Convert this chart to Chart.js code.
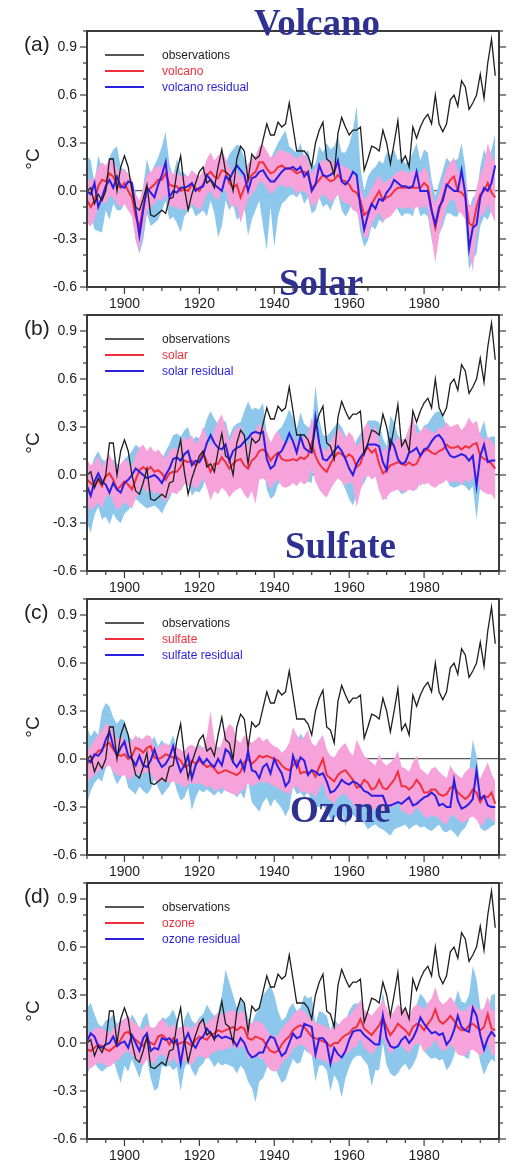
<!DOCTYPE html>
<html>
<head>
<meta charset="utf-8">
<script src="https://cdn.jsdelivr.net/npm/chart.js@4.4.1/dist/chart.umd.min.js"></script>
<style>
  html, body { margin: 0; padding: 0; background: #fff; }
  #wrap { position: relative; width: 512px; height: 1163px; overflow: hidden; }
  #wrap canvas { position: absolute; left: 0; }
  .ttl {
    position: absolute; z-index: 5; white-space: nowrap;
    font-family: "Liberation Serif", "Times New Roman", serif;
    font-weight: bold; font-size: 37px; line-height: 37px; color: #2e3192;
  }
</style>
</head>
<body>
<div id="wrap">
  <canvas id="pa" width="512" height="316" style="top:0px"></canvas>
  <canvas id="pb" width="512" height="316" style="top:284px"></canvas>
  <canvas id="pc" width="512" height="316" style="top:568px"></canvas>
  <canvas id="pd" width="512" height="311" style="top:852px"></canvas>
  <div class="ttl" style="left:254px;top:4px">Volcano</div>
  <div class="ttl" style="left:279px;top:264px">Solar</div>
  <div class="ttl" style="left:285px;top:527px">Sulfate</div>
  <div class="ttl" style="left:290px;top:791px">Ozone</div>
</div>
<script>
/* ---- data (annual, 1890-1999) ---- */
const years = [
  1890,1891,1892,1893,1894,1895,1896,1897,1898,1899,
  1900,1901,1902,1903,1904,1905,1906,1907,1908,1909,
  1910,1911,1912,1913,1914,1915,1916,1917,1918,1919,
  1920,1921,1922,1923,1924,1925,1926,1927,1928,1929,
  1930,1931,1932,1933,1934,1935,1936,1937,1938,1939,
  1940,1941,1942,1943,1944,1945,1946,1947,1948,1949,
  1950,1951,1952,1953,1954,1955,1956,1957,1958,1959,
  1960,1961,1962,1963,1964,1965,1966,1967,1968,1969,
  1970,1971,1972,1973,1974,1975,1976,1977,1978,1979,
  1980,1981,1982,1983,1984,1985,1986,1987,1988,1989,
  1990,1991,1992,1993,1994,1995,1996,1997,1998,1999
];

const observations = [
  0.00, 0.02,-0.08,-0.02,-0.06, 0.00, 0.20, 0.20, 0.00, 0.15,
  0.22, 0.15, 0.00,-0.10,-0.12,-0.05, 0.04,-0.15,-0.16,-0.14,
 -0.12,-0.14,-0.05,-0.04, 0.12, 0.22, 0.02,-0.12,-0.02, 0.05,
  0.12, 0.15, 0.05, 0.07, 0.02, 0.15, 0.26, 0.12, 0.10, 0.00,
  0.20, 0.28, 0.25, 0.07, 0.23, 0.20, 0.22, 0.32, 0.42, 0.35,
  0.35, 0.43, 0.40, 0.42, 0.55, 0.40, 0.25, 0.25, 0.25, 0.22,
  0.15, 0.30, 0.38, 0.43, 0.20, 0.18, 0.10, 0.36, 0.46, 0.40,
  0.35, 0.38, 0.38, 0.40, 0.13, 0.20, 0.28, 0.27, 0.25, 0.38,
  0.30, 0.17, 0.30, 0.44, 0.18, 0.22, 0.15, 0.40, 0.33, 0.40,
  0.45, 0.48, 0.42, 0.60, 0.42, 0.37, 0.42, 0.57, 0.60, 0.53,
  0.69, 0.65, 0.51, 0.55, 0.60, 0.73, 0.58, 0.80, 0.95, 0.72
];

// (a) volcano
const volcano = [
 -0.06,-0.10,-0.06, 0.03, 0.07, 0.06, 0.11, 0.09, 0.04, 0.02,
  0.05, 0.00,-0.04,-0.16,-0.23,-0.10, 0.00, 0.02, 0.04, 0.07,
  0.07, 0.11, 0.04, 0.03, 0.03, 0.00, 0.01, 0.00, 0.04, 0.02,
  0.00, 0.04, 0.10, 0.12, 0.09, 0.08, 0.13, 0.12, 0.05, 0.02,
  0.04,-0.04, 0.02, 0.07, 0.10, 0.12, 0.18, 0.18, 0.14, 0.11,
  0.12, 0.15, 0.16, 0.14, 0.14, 0.13, 0.11, 0.12, 0.12, 0.10,
  0.02, 0.04, 0.07, 0.10, 0.08, 0.06, 0.07, 0.10, 0.07, 0.06,
  0.04, 0.00,-0.01,-0.06,-0.15,-0.13,-0.08,-0.04, 0.00,-0.06,
 -0.04,-0.03, 0.00, 0.02, 0.02, 0.02, 0.02, 0.02, 0.02, 0.02,
  0.05, 0.03,-0.12,-0.23,-0.12,-0.04, 0.03, 0.07, 0.09, 0.00,
 -0.01,-0.04,-0.20,-0.22,-0.10,-0.02, 0.00, 0.05,-0.01,-0.04
];
const volcanoHi = [
  0.10, 0.06, 0.08, 0.15, 0.18, 0.16, 0.20, 0.19, 0.14, 0.12,
  0.14, 0.10, 0.07,-0.02,-0.06, 0.02, 0.10, 0.12, 0.14, 0.16,
  0.15, 0.20, 0.12, 0.11, 0.12, 0.09, 0.10, 0.09, 0.13, 0.11,
  0.09, 0.13, 0.20, 0.24, 0.19, 0.22, 0.24, 0.21, 0.15, 0.12,
  0.13, 0.08, 0.12, 0.17, 0.20, 0.22, 0.28, 0.29, 0.25, 0.21,
  0.22, 0.25, 0.26, 0.24, 0.24, 0.22, 0.20, 0.22, 0.23, 0.19,
  0.11, 0.14, 0.17, 0.20, 0.18, 0.21, 0.17, 0.20, 0.16, 0.15,
  0.14, 0.10, 0.09, 0.03,-0.05,-0.03, 0.02, 0.06, 0.10, 0.05,
  0.06, 0.08, 0.10, 0.12, 0.13, 0.12, 0.11, 0.13, 0.12, 0.11,
  0.15, 0.12, 0.00,-0.08,-0.02, 0.06, 0.14, 0.18, 0.21, 0.12,
  0.10, 0.06,-0.08,-0.10, 0.02, 0.10, 0.16, 0.30, 0.22, 0.18
];
const volcanoLo = [
 -0.20,-0.22,-0.18,-0.10,-0.07,-0.08,-0.03,-0.04,-0.08,-0.10,
 -0.08,-0.12,-0.16,-0.30,-0.38,-0.24,-0.12,-0.10,-0.08,-0.05,
 -0.06,-0.02,-0.09,-0.10,-0.10,-0.12,-0.11,-0.12,-0.08,-0.10,
 -0.12,-0.08,-0.02, 0.00,-0.04,-0.06, 0.01, 0.00,-0.08,-0.10,
 -0.09,-0.20,-0.12,-0.05,-0.02, 0.01, 0.06, 0.05, 0.02,-0.02,
  0.00, 0.03, 0.04, 0.02, 0.03, 0.02,-0.02, 0.00, 0.00,-0.03,
 -0.10,-0.08,-0.05,-0.02,-0.04,-0.07,-0.05,-0.02,-0.06,-0.08,
 -0.08,-0.12,-0.13,-0.20,-0.30,-0.28,-0.20,-0.17,-0.13,-0.19,
 -0.17,-0.16,-0.13,-0.10,-0.11,-0.11,-0.10,-0.12,-0.10,-0.11,
 -0.09,-0.11,-0.28,-0.45,-0.28,-0.18,-0.10,-0.06,-0.05,-0.13,
 -0.14,-0.18,-0.36,-0.50,-0.26,-0.16,-0.14,-0.08,-0.14,-0.20
];
const volcanoResid = [
  0.00,-0.02, 0.05,-0.10,-0.04, 0.03, 0.07, 0.02, 0.09, 0.03,
  0.02, 0.06, 0.05,-0.12,-0.28,-0.12, 0.02,-0.01,-0.04, 0.04,
  0.10, 0.18,-0.04, 0.00,-0.01, 0.02, 0.02, 0.03, 0.05, 0.00,
  0.02, 0.03, 0.10, 0.07, 0.04, 0.02, 0.00, 0.09, 0.07, 0.12,
  0.16, 0.13, 0.10, 0.00, 0.08, 0.09, 0.12, 0.13, 0.09, 0.06,
  0.06, 0.09, 0.12, 0.14, 0.14, 0.15, 0.13, 0.15, 0.09, 0.12,
  0.00, 0.04, 0.16, 0.10, 0.09, 0.10, 0.12, 0.19, 0.06, 0.04,
  0.07, 0.12, 0.10,-0.10,-0.24,-0.15,-0.08,-0.11,-0.05,-0.06,
 -0.01, 0.02, 0.07, 0.05, 0.03, 0.03, 0.02, 0.03, 0.12, 0.00,
  0.00, 0.00,-0.12,-0.21,-0.10,-0.06, 0.04, 0.02, 0.00, 0.00,
  0.13,-0.02,-0.36,-0.23,-0.21,-0.04, 0.02, 0.00, 0.05, 0.16
];
const volcanoResidHi = [
  0.22, 0.19, 0.05, 0.22, 0.15, 0.12, 0.21, 0.26, 0.28, 0.15,
  0.13, 0.11, 0.07,-0.01,-0.12, 0.03, 0.20, 0.11, 0.16, 0.21,
  0.28, 0.37, 0.17, 0.09, 0.20, 0.12, 0.11, 0.09, 0.13, 0.07,
  0.05, 0.13, 0.17, 0.15, 0.12, 0.09, 0.05, 0.17, 0.23, 0.26,
  0.29, 0.28, 0.20, 0.13, 0.21, 0.22, 0.19, 0.23, 0.18, 0.20,
  0.25, 0.30, 0.34, 0.38, 0.28, 0.26, 0.24, 0.30, 0.21, 0.26,
  0.15, 0.17, 0.28, 0.24, 0.30, 0.26, 0.28, 0.34, 0.24, 0.24,
  0.29, 0.38, 0.53, 0.15, 0.00, 0.09, 0.13, 0.15, 0.19, 0.17,
  0.24, 0.22, 0.26, 0.19, 0.21, 0.17, 0.19, 0.24, 0.30, 0.19,
  0.26, 0.24, 0.07,-0.03, 0.05, 0.13, 0.21, 0.18, 0.19, 0.20,
  0.30, 0.15,-0.12,-0.04,-0.02, 0.15, 0.26, 0.20, 0.26, 0.36
];
const volcanoResidLo = [
 -0.24,-0.14,-0.24,-0.25,-0.26,-0.12,-0.18,-0.08,-0.12,-0.12,
 -0.08,-0.12,-0.14,-0.31,-0.39,-0.31,-0.14,-0.22,-0.20,-0.18,
 -0.12,-0.06,-0.18,-0.16,-0.20,-0.26,-0.16,-0.12,-0.10,-0.16,
 -0.14,-0.12,-0.16,-0.06,-0.14,-0.29,-0.22,-0.06,-0.12,-0.08,
 -0.18,-0.16,-0.10,-0.28,-0.18,-0.12,-0.06,-0.22,-0.37,-0.10,
 -0.35,-0.16,-0.08,-0.06,-0.03,-0.02,-0.04,-0.01,-0.08,-0.04,
 -0.14,-0.12,-0.04,-0.10,-0.08,-0.12,-0.06,-0.02,-0.12,-0.16,
 -0.12,-0.06,-0.10,-0.26,-0.35,-0.31,-0.22,-0.24,-0.18,-0.20,
 -0.16,-0.12,-0.08,-0.12,-0.16,-0.14,-0.14,-0.16,-0.06,-0.16,
 -0.14,-0.16,-0.30,-0.41,-0.27,-0.22,-0.14,-0.14,-0.16,-0.16,
 -0.06,-0.18,-0.49,-0.43,-0.39,-0.22,-0.16,-0.18,-0.12,-0.06
];

// (b) solar
const solar = [
 -0.03,-0.05,-0.07,-0.03,-0.07,-0.01, 0.01,-0.03,-0.09,-0.07,
 -0.04,-0.06,-0.09,-0.03, 0.03, 0.05, 0.03, 0.05, 0.02, 0.03,
  0.01,-0.03, 0.01, 0.02, 0.02, 0.05, 0.09, 0.08, 0.09, 0.06,
  0.09, 0.14, 0.08, 0.02, 0.07, 0.07, 0.11, 0.08, 0.04, 0.07,
  0.09, 0.10, 0.06, 0.04, 0.09, 0.11, 0.15, 0.16, 0.14, 0.09,
  0.12, 0.14, 0.10, 0.09, 0.09, 0.10, 0.09, 0.11, 0.10, 0.12,
  0.20, 0.12, 0.07, 0.04, 0.02, 0.07, 0.11, 0.14, 0.13, 0.11,
  0.13, 0.11, 0.05, 0.07, 0.15, 0.17, 0.14, 0.16, 0.07, 0.01,
  0.03, 0.06, 0.07, 0.08, 0.07, 0.06, 0.08, 0.06, 0.07, 0.12,
  0.15, 0.16, 0.14, 0.13, 0.15, 0.16, 0.19, 0.17, 0.17, 0.18,
  0.16, 0.18, 0.17, 0.19, 0.20, 0.12, 0.10, 0.09, 0.07, 0.04
];
const solarHi = [
  0.10, 0.06, 0.08, 0.12, 0.05, 0.10, 0.13, 0.08, 0.04, 0.07,
  0.10, 0.08, 0.05, 0.12, 0.17, 0.19, 0.15, 0.18, 0.14, 0.16,
  0.13, 0.10, 0.15, 0.17, 0.16, 0.20, 0.24, 0.22, 0.25, 0.19,
  0.23, 0.30, 0.24, 0.18, 0.28, 0.34, 0.38, 0.30, 0.20, 0.27,
  0.29, 0.31, 0.22, 0.18, 0.26, 0.28, 0.32, 0.30, 0.27, 0.20,
  0.25, 0.28, 0.22, 0.20, 0.21, 0.24, 0.20, 0.25, 0.22, 0.26,
  0.36, 0.26, 0.19, 0.17, 0.15, 0.21, 0.25, 0.29, 0.27, 0.23,
  0.27, 0.24, 0.18, 0.21, 0.30, 0.33, 0.27, 0.31, 0.20, 0.15,
  0.17, 0.22, 0.20, 0.24, 0.21, 0.23, 0.30, 0.38, 0.26, 0.27,
  0.30, 0.29, 0.27, 0.26, 0.30, 0.29, 0.33, 0.30, 0.31, 0.32,
  0.28, 0.31, 0.36, 0.32, 0.34, 0.25, 0.22, 0.24, 0.21, 0.18
];
const solarLo = [
 -0.18,-0.22,-0.20,-0.17,-0.21,-0.14,-0.12,-0.17,-0.22,-0.20,
 -0.17,-0.19,-0.21,-0.15,-0.10,-0.08,-0.11,-0.09,-0.12,-0.11,
 -0.14,-0.17,-0.12,-0.11,-0.12,-0.09,-0.05,-0.07,-0.06,-0.09,
 -0.06,-0.02,-0.08,-0.16,-0.10,-0.12,-0.08,-0.10,-0.14,-0.11,
 -0.09,-0.08,-0.12,-0.15,-0.10,-0.18,-0.03,-0.02,-0.04,-0.09,
 -0.05,-0.03,-0.07,-0.08,-0.07,-0.05,-0.07,-0.04,-0.06,-0.04,
  0.04,-0.04,-0.09,-0.12,-0.14,-0.09,-0.05,-0.02,-0.04,-0.07,
 -0.04,-0.06,-0.20,-0.10,-0.02, 0.00,-0.03,-0.01,-0.10,-0.16,
 -0.14,-0.11,-0.10,-0.09,-0.10,-0.11,-0.09,-0.10,-0.09,-0.05,
 -0.06,-0.05,-0.07,-0.08,-0.06,-0.05,-0.03,-0.05,-0.04,-0.04,
 -0.06,-0.03,-0.05,-0.02,-0.02,-0.09,-0.11,-0.12,-0.12,-0.16
];
const solarResid = [
 -0.07,-0.13,-0.04, 0.01,-0.04,-0.06,-0.11,-0.05,-0.09,-0.11,
 -0.05,-0.03, 0.00, 0.04, 0.02, 0.00,-0.02,-0.01, 0.00,-0.02,
 -0.05, 0.00, 0.04, 0.10, 0.11, 0.09, 0.13, 0.15, 0.06, 0.09,
  0.08, 0.12, 0.20, 0.25, 0.20, 0.17, 0.16, 0.19, 0.09, 0.15,
  0.17, 0.18, 0.21, 0.23, 0.26, 0.27, 0.26, 0.27, 0.10, 0.04,
  0.06, 0.13, 0.15, 0.20, 0.26, 0.21, 0.14, 0.24, 0.17, 0.15,
  0.14, 0.36, 0.20, 0.10, 0.09, 0.12, 0.15, 0.18, 0.15, 0.10,
  0.04, 0.00, 0.07, 0.11, 0.14, 0.19, 0.19, 0.19, 0.18, 0.08,
  0.03, 0.22, 0.18, 0.10, 0.07, 0.08, 0.14, 0.15, 0.17, 0.12,
  0.16, 0.17, 0.21, 0.24, 0.25, 0.22, 0.16, 0.12, 0.11, 0.12,
  0.13, 0.12, 0.09, 0.12,-0.07, 0.12, 0.19, 0.08, 0.09, 0.09
];
const solarResidHi = [
  0.10, 0.04, 0.11, 0.15, 0.10, 0.08, 0.05, 0.10, 0.07, 0.05,
  0.10, 0.12, 0.15, 0.19, 0.17, 0.15, 0.13, 0.14, 0.15, 0.13,
  0.10, 0.15, 0.19, 0.25, 0.26, 0.24, 0.28, 0.30, 0.21, 0.24,
  0.23, 0.27, 0.35, 0.40, 0.35, 0.32, 0.31, 0.34, 0.24, 0.30,
  0.32, 0.33, 0.40, 0.46, 0.41, 0.42, 0.41, 0.45, 0.25, 0.19,
  0.21, 0.28, 0.30, 0.35, 0.41, 0.36, 0.29, 0.39, 0.32, 0.30,
  0.29, 0.56, 0.35, 0.25, 0.24, 0.27, 0.30, 0.33, 0.30, 0.25,
  0.19, 0.15, 0.22, 0.26, 0.29, 0.34, 0.34, 0.34, 0.33, 0.23,
  0.18, 0.37, 0.33, 0.25, 0.22, 0.23, 0.29, 0.30, 0.32, 0.27,
  0.31, 0.32, 0.36, 0.39, 0.40, 0.37, 0.31, 0.27, 0.26, 0.27,
  0.28, 0.27, 0.24, 0.27, 0.08, 0.27, 0.34, 0.23, 0.24, 0.24
];
const solarResidLo = [
 -0.30,-0.36,-0.25,-0.20,-0.28,-0.26,-0.31,-0.24,-0.28,-0.30,
 -0.24,-0.22,-0.19,-0.15,-0.17,-0.19,-0.21,-0.20,-0.19,-0.21,
 -0.24,-0.19,-0.15,-0.09,-0.08,-0.10,-0.06,-0.04,-0.13,-0.10,
 -0.11,-0.07, 0.01, 0.06, 0.01,-0.02,-0.03, 0.00,-0.10,-0.04,
 -0.02,-0.01, 0.02, 0.04, 0.07, 0.08, 0.07, 0.08,-0.09,-0.15,
 -0.13,-0.06,-0.04, 0.01, 0.07, 0.02,-0.05, 0.05,-0.02,-0.04,
 -0.05, 0.16, 0.01,-0.09,-0.10,-0.07,-0.04,-0.01,-0.04,-0.09,
 -0.15,-0.19,-0.12,-0.08,-0.05, 0.00, 0.00, 0.00,-0.01,-0.11,
 -0.16, 0.03,-0.01,-0.09,-0.12,-0.11,-0.05,-0.04,-0.02,-0.07,
 -0.03,-0.02, 0.02, 0.05, 0.06, 0.03,-0.03,-0.07,-0.08,-0.07,
 -0.06,-0.07,-0.10,-0.07,-0.28,-0.07, 0.00,-0.11,-0.10,-0.14
];

// (c) sulfate
const sulfate = [
 -0.03,-0.01, 0.02, 0.05, 0.06, 0.09, 0.10, 0.06, 0.03, 0.02,
  0.03, 0.00, 0.02, 0.07, 0.06, 0.04, 0.07, 0.08, 0.01, 0.00,
  0.01, 0.03, 0.02, 0.01, 0.01,-0.01,-0.05,-0.04,-0.01,-0.03,
 -0.01,-0.03,-0.05,-0.04,-0.06,-0.09,-0.08,-0.07,-0.08,-0.09,
 -0.10,-0.08,-0.02, 0.00,-0.03,-0.01, 0.02, 0.01, 0.02, 0.01,
  0.00,-0.01,-0.04,-0.06,-0.07,-0.04,-0.01,-0.09,-0.08,-0.09,
 -0.07,-0.11,-0.05, 0.00,-0.10,-0.12,-0.14,-0.10,-0.08,-0.07,
 -0.10,-0.13,-0.18,-0.17,-0.13,-0.15,-0.19,-0.18,-0.13,-0.18,
 -0.19,-0.16,-0.13,-0.08,-0.17,-0.17,-0.19,-0.17,-0.13,-0.16,
 -0.21,-0.21,-0.19,-0.19,-0.22,-0.23,-0.22,-0.18,-0.17,-0.21,
 -0.23,-0.25,-0.23,-0.19,-0.21,-0.27,-0.23,-0.24,-0.21,-0.28
];
const sulfateHi = [
  0.05, 0.08, 0.12, 0.15, 0.18, 0.22, 0.21, 0.17, 0.12, 0.14,
  0.12, 0.10, 0.11, 0.15, 0.12, 0.13, 0.15, 0.14, 0.08, 0.07,
  0.09, 0.10, 0.08, 0.09, 0.07, 0.06, 0.04, 0.08, 0.09, 0.07,
  0.08, 0.06, 0.15, 0.30, 0.12, 0.05, 0.10, 0.18, 0.22, 0.20,
  0.12, 0.10, 0.15, 0.12, 0.10, 0.12, 0.14, 0.11, 0.13, 0.10,
  0.08, 0.07, 0.04, 0.06, 0.10, 0.20, 0.15, 0.12, 0.14, 0.18,
  0.10, 0.08, 0.12, 0.15, 0.06, 0.02, 0.01, 0.05, 0.08, 0.10,
  0.05, 0.02, 0.12, 0.07, 0.02, 0.00,-0.02,-0.04, 0.03,-0.02,
 -0.04,-0.02, 0.00, 0.05,-0.05,-0.06,-0.08,-0.02, 0.02,-0.06,
 -0.08,-0.10,-0.06,-0.05,-0.08,-0.10,-0.12,-0.04,-0.08,-0.10,
 -0.12,-0.08,-0.06,-0.05,-0.10,-0.12,-0.07,-0.02,-0.09,-0.14
];
const sulfateLo = [
 -0.15,-0.12,-0.10,-0.08,-0.06,-0.05,-0.04,-0.08,-0.10,-0.11,
 -0.10,-0.13,-0.12,-0.08,-0.10,-0.09,-0.08,-0.09,-0.13,-0.15,
 -0.14,-0.13,-0.15,-0.14,-0.15,-0.16,-0.18,-0.16,-0.15,-0.16,
 -0.15,-0.16,-0.18,-0.17,-0.20,-0.19,-0.18,-0.20,-0.21,-0.22,
 -0.23,-0.20,-0.19,-0.15,-0.17,-0.16,-0.14,-0.15,-0.14,-0.16,
 -0.17,-0.18,-0.20,-0.21,-0.22,-0.18,-0.17,-0.21,-0.20,-0.22,
 -0.21,-0.24,-0.19,-0.15,-0.24,-0.26,-0.28,-0.24,-0.22,-0.22,
 -0.25,-0.28,-0.32,-0.30,-0.28,-0.30,-0.32,-0.31,-0.28,-0.32,
 -0.33,-0.30,-0.30,-0.26,-0.33,-0.33,-0.35,-0.34,-0.30,-0.33,
 -0.36,-0.37,-0.35,-0.36,-0.37,-0.40,-0.41,-0.36,-0.35,-0.38,
 -0.40,-0.39,-0.37,-0.36,-0.38,-0.42,-0.40,-0.36,-0.38,-0.40
];
const sulfateResid = [
  0.00,-0.02, 0.03, 0.02, 0.05, 0.12, 0.17, 0.08, 0.02, 0.07,
  0.11, 0.02, 0.00,-0.04, 0.02,-0.04,-0.05,-0.01, 0.06,-0.01,
 -0.05,-0.03, 0.01, 0.08,-0.01,-0.08,-0.04, 0.02,-0.12,-0.04,
  0.01,-0.03, 0.00,-0.03,-0.05, 0.00,-0.04, 0.06, 0.04,-0.02,
 -0.05,-0.01,-0.07, 0.05,-0.07,-0.08,-0.12,-0.05,-0.03,-0.09,
  0.00,-0.05,-0.09,-0.17,-0.14, 0.02,-0.05, 0.01,-0.01,-0.10,
 -0.07,-0.08,-0.10,-0.09,-0.14,-0.21,-0.20,-0.17,-0.13,-0.15,
 -0.16,-0.14,-0.15,-0.17,-0.20,-0.21,-0.23,-0.23,-0.23,-0.23,
 -0.29,-0.29,-0.28,-0.27,-0.28,-0.26,-0.24,-0.29,-0.28,-0.26,
 -0.24,-0.23,-0.21,-0.23,-0.29,-0.28,-0.30,-0.30,-0.13,-0.26,
 -0.31,-0.30,-0.28,-0.25,-0.07,-0.25,-0.23,-0.29,-0.30,-0.30
];
const sulfateResidHi = [
  0.20, 0.14, 0.18, 0.15, 0.30, 0.35, 0.33, 0.26, 0.22, 0.25,
  0.24, 0.15, 0.12, 0.10, 0.14, 0.10, 0.09, 0.11, 0.14, 0.08,
  0.12, 0.08, 0.09, 0.15, 0.06, 0.02, 0.05, 0.08,-0.02, 0.06,
  0.09, 0.07, 0.08, 0.06, 0.04, 0.08, 0.06, 0.10, 0.13, 0.09,
  0.07, 0.10, 0.05, 0.12, 0.02, 0.04,-0.01, 0.05, 0.06, 0.02,
  0.07, 0.04, 0.00,-0.04, 0.02, 0.15, 0.10, 0.16, 0.12, 0.14,
  0.08, 0.02, 0.04, 0.05, 0.00,-0.04,-0.03,-0.02, 0.01,-0.02,
 -0.01,-0.03, 0.00,-0.02,-0.05,-0.08,-0.06,-0.09,-0.10,-0.12,
 -0.14,-0.16,-0.12,-0.10,-0.11,-0.10,-0.13,-0.12,-0.09,-0.10,
 -0.12,-0.14,-0.13,-0.11,-0.09,-0.13,-0.14,-0.12,-0.15,-0.18,
 -0.17,-0.14,-0.09, 0.12, 0.02,-0.16,-0.18,-0.14,-0.19,-0.19
];
const sulfateResidLo = [
 -0.28,-0.20,-0.15,-0.12,-0.14,-0.06,-0.02,-0.10,-0.16,-0.12,
 -0.08,-0.18,-0.20,-0.22,-0.17,-0.20,-0.22,-0.19,-0.12,-0.18,
 -0.23,-0.20,-0.17,-0.11,-0.20,-0.26,-0.24,-0.18,-0.32,-0.24,
 -0.19,-0.21,-0.19,-0.21,-0.23,-0.20,-0.22,-0.18,-0.15,-0.21,
 -0.24,-0.21,-0.25,-0.14,-0.27,-0.30,-0.33,-0.27,-0.24,-0.30,
 -0.25,-0.28,-0.31,-0.36,-0.31,-0.17,-0.22,-0.21,-0.24,-0.20,
 -0.28,-0.30,-0.30,-0.29,-0.32,-0.38,-0.37,-0.35,-0.33,-0.42,
 -0.36,-0.35,-0.37,-0.38,-0.40,-0.44,-0.42,-0.41,-0.43,-0.44,
 -0.46,-0.48,-0.44,-0.43,-0.42,-0.41,-0.44,-0.42,-0.41,-0.43,
 -0.42,-0.44,-0.45,-0.43,-0.41,-0.45,-0.46,-0.44,-0.46,-0.49,
 -0.45,-0.43,-0.38,-0.24,-0.35,-0.43,-0.45,-0.44,-0.42,-0.41
];

// (d) ozone
const ozone = [
 -0.04,-0.05,-0.03,-0.01,-0.02,-0.04,-0.05,-0.03,-0.01, 0.02,
  0.06, 0.07, 0.04, 0.02, 0.00,-0.02, 0.02, 0.00,-0.01, 0.04,
  0.05, 0.03,-0.01, 0.03,-0.01, 0.00, 0.01, 0.00,-0.02, 0.02,
  0.04, 0.03, 0.02, 0.05, 0.06, 0.08, 0.07, 0.08, 0.09, 0.10,
  0.08, 0.10, 0.09, 0.03, 0.02, 0.04, 0.03, 0.02,-0.02,-0.05,
 -0.06,-0.05,-0.01, 0.02, 0.04, 0.08, 0.10, 0.11, 0.10, 0.07,
  0.04, 0.03, 0.02, 0.01, 0.00,-0.02, 0.00, 0.00, 0.03, 0.05,
  0.06, 0.09, 0.10, 0.15, 0.09, 0.07, 0.05, 0.08, 0.11, 0.16,
  0.10, 0.05, 0.08, 0.12, 0.10, 0.08, 0.05, 0.10, 0.12, 0.11,
  0.08, 0.12, 0.15, 0.21, 0.14, 0.12, 0.14, 0.17, 0.14, 0.10,
  0.08, 0.08, 0.11, 0.12, 0.10, 0.08, 0.10, 0.18, 0.09, 0.08
];
const ozoneHi = [
  0.07, 0.06, 0.09, 0.10, 0.09, 0.08, 0.06, 0.09, 0.11, 0.13,
  0.15, 0.17, 0.14, 0.12, 0.10, 0.08, 0.12, 0.10, 0.09, 0.13,
  0.15, 0.13, 0.09, 0.12, 0.09, 0.10, 0.11, 0.10, 0.09, 0.12,
  0.14, 0.13, 0.12, 0.15, 0.16, 0.19, 0.18, 0.19, 0.20, 0.21,
  0.18, 0.20, 0.19, 0.13, 0.12, 0.14, 0.13, 0.12, 0.08, 0.05,
  0.04, 0.05, 0.09, 0.12, 0.14, 0.18, 0.20, 0.21, 0.20, 0.17,
  0.14, 0.13, 0.12, 0.11, 0.10, 0.08, 0.10, 0.11, 0.14, 0.16,
  0.17, 0.20, 0.23, 0.27, 0.21, 0.19, 0.17, 0.20, 0.23, 0.27,
  0.22, 0.17, 0.20, 0.24, 0.22, 0.20, 0.17, 0.22, 0.24, 0.23,
  0.21, 0.25, 0.28, 0.35, 0.27, 0.24, 0.26, 0.29, 0.26, 0.22,
  0.20, 0.20, 0.23, 0.24, 0.22, 0.20, 0.22, 0.29, 0.21, 0.20
];
const ozoneLo = [
 -0.15,-0.16,-0.14,-0.12,-0.13,-0.14,-0.15,-0.13,-0.11,-0.09,
 -0.06,-0.05,-0.08,-0.10,-0.12,-0.14,-0.10,-0.12,-0.13,-0.08,
 -0.07,-0.09,-0.13,-0.09,-0.13,-0.12,-0.11,-0.12,-0.14,-0.10,
 -0.08,-0.09,-0.10,-0.07,-0.06,-0.04,-0.05,-0.04,-0.03,-0.02,
 -0.04,-0.02,-0.03,-0.09,-0.10,-0.08,-0.09,-0.10,-0.14,-0.17,
 -0.18,-0.17,-0.13,-0.10,-0.08,-0.04,-0.02,-0.01,-0.02,-0.05,
 -0.08,-0.09,-0.10,-0.11,-0.12,-0.14,-0.12,-0.12,-0.09,-0.07,
 -0.06,-0.03,-0.02, 0.03,-0.03,-0.05,-0.07,-0.04,-0.01, 0.04,
 -0.02,-0.07,-0.04, 0.00,-0.02,-0.04,-0.07,-0.02, 0.00,-0.01,
 -0.06,-0.03,-0.02, 0.02,-0.03,-0.05,-0.04,-0.01,-0.04,-0.07,
 -0.08,-0.08,-0.05,-0.04,-0.06,-0.08,-0.06, 0.00,-0.07,-0.08
];
const ozoneResid = [
  0.01, 0.06, 0.04,-0.02,-0.03,-0.01, 0.00, 0.04,-0.02, 0.00,
  0.01,-0.03, 0.05, 0.00,-0.05, 0.03, 0.06,-0.05,-0.03,-0.04,
  0.03, 0.02, 0.03, 0.00, 0.02,-0.13, 0.01, 0.06, 0.00,-0.03,
  0.02, 0.04, 0.09, 0.06, 0.03, 0.05, 0.03, 0.04, 0.03, 0.02,
 -0.02, 0.03, 0.00,-0.06,-0.09,-0.08,-0.06,-0.06, 0.00, 0.04,
  0.03,-0.03,-0.08,-0.06, 0.00, 0.06, 0.03, 0.04, 0.12, 0.11,
  0.10,-0.07, 0.03, 0.03, 0.00,-0.13,-0.03,-0.07,-0.09,-0.05,
  0.02, 0.07, 0.08, 0.08, 0.05, 0.03, 0.01,-0.01,-0.01, 0.17,
  0.03,-0.02,-0.03,-0.02, 0.02, 0.04, 0.00, 0.03, 0.08, 0.16,
  0.12, 0.09, 0.06, 0.07, 0.05, 0.06,-0.01, 0.02, 0.08, 0.17,
  0.10, 0.08, 0.07, 0.22, 0.17, 0.05,-0.04, 0.03, 0.07, 0.04
];
const ozoneResidHi = [
  0.22, 0.25, 0.18, 0.12, 0.10, 0.14, 0.15, 0.18, 0.12, 0.14,
  0.15, 0.10, 0.18, 0.14, 0.09, 0.16, 0.19, 0.08, 0.10, 0.09,
  0.16, 0.15, 0.17, 0.21, 0.15, 0.02, 0.15, 0.20, 0.14, 0.12,
  0.16, 0.18, 0.24, 0.20, 0.17, 0.19, 0.30, 0.46, 0.38, 0.30,
  0.22, 0.27, 0.24, 0.16, 0.12, 0.18, 0.22, 0.30, 0.33, 0.36,
  0.30, 0.20, 0.14, 0.16, 0.22, 0.25, 0.20, 0.22, 0.30, 0.28,
  0.29, 0.12, 0.20, 0.19, 0.17, 0.08, 0.15, 0.12, 0.10, 0.14,
  0.20, 0.24, 0.25, 0.23, 0.20, 0.18, 0.16, 0.14, 0.15, 0.32,
  0.18, 0.13, 0.12, 0.13, 0.17, 0.19, 0.15, 0.18, 0.24, 0.31,
  0.28, 0.24, 0.22, 0.23, 0.21, 0.21, 0.15, 0.18, 0.24, 0.33,
  0.26, 0.25, 0.30, 0.48, 0.40, 0.22, 0.12, 0.20, 0.30, 0.31
];
const ozoneResidLo = [
 -0.20,-0.14,-0.12,-0.16,-0.18,-0.16,-0.14,-0.10,-0.18,-0.25,
 -0.14,-0.18,-0.10,-0.16,-0.22,-0.13,-0.10,-0.22,-0.30,-0.28,
 -0.14,-0.15,-0.14,-0.17,-0.15,-0.30,-0.16,-0.11,-0.17,-0.21,
 -0.15,-0.13,-0.08,-0.11,-0.15,-0.12,-0.14,-0.13,-0.14,-0.15,
 -0.19,-0.14,-0.17,-0.24,-0.28,-0.37,-0.24,-0.22,-0.16,-0.11,
 -0.13,-0.20,-0.25,-0.23,-0.16,-0.10,-0.13,-0.12,-0.04,-0.06,
 -0.07,-0.24,-0.14,-0.14,-0.17,-0.30,-0.20,-0.24,-0.34,-0.22,
 -0.15,-0.10,-0.08,-0.08,-0.11,-0.14,-0.27,-0.17,-0.17, 0.00,
 -0.14,-0.19,-0.21,-0.19,-0.15,-0.13,-0.17,-0.14,-0.09, 0.00,
 -0.05,-0.08,-0.10,-0.09,-0.11,-0.10,-0.17,-0.14,-0.08, 0.01,
 -0.06,-0.09,-0.10, 0.05, 0.00,-0.12,-0.20,-0.14,-0.10,-0.12
];

// axis ticks
const xMajor = [1900, 1920, 1940, 1960, 1980];
const xMinor = [1890, 1895, 1900, 1905, 1910, 1915, 1920, 1925, 1930, 1935, 1940,
                1945, 1950, 1955, 1960, 1965, 1970, 1975, 1980, 1985, 1990, 1995, 2000];
const yMajor = [-0.6, -0.3, 0, 0.3, 0.6, 0.9];
const yMinor = [-0.6, -0.5, -0.4, -0.3, -0.2, -0.1, 0, 0.1, 0.2, 0.3, 0.4, 0.5, 0.6, 0.7, 0.8, 0.9, 1.0];

/* ---- styling ---- */
const C_OBS = '#1e1e1e';
const C_MODEL = '#f2303c';
const C_RESID = '#2a1fe0';
const C_PINK = '#f5a3da';
const C_SKY = '#8ec7ec';
const FONT = '"Liberation Sans", Arial, sans-serif';

const pts = (arr) => years.map((yr, i) => ({ x: yr, y: arr[i] }));

// frame, outward ticks, panel letter, unit label and legend
const deco = {
  id: 'deco',
  afterDraw(chart, args, o) {
    const { ctx, chartArea: a, scales: { x, y } } = chart;
    ctx.save();
    ctx.strokeStyle = '#3a3a3a';
    ctx.lineWidth = 1.2;
    const seg = (x1, y1, x2, y2) => { ctx.beginPath(); ctx.moveTo(x1, y1); ctx.lineTo(x2, y2); ctx.stroke(); };
    xMinor.forEach(v => {
      const px = x.getPixelForValue(v);
      seg(px, a.bottom, px, a.bottom + (xMajor.includes(v) ? 7 : 4));
    });
    yMinor.forEach(v => {
      const py = y.getPixelForValue(v);
      const len = yMajor.includes(v) ? 7 : 4;
      seg(a.left - len, py, a.left, py);
      seg(a.right, py, a.right + len, py);
    });
    ctx.lineWidth = 2;
    ctx.strokeRect(a.left, a.top, a.right - a.left, a.bottom - a.top);

    ctx.fillStyle = '#222';
    ctx.textBaseline = 'middle';
    ctx.textAlign = 'left';
    ctx.font = '21px ' + FONT;
    ctx.fillText(o.letter, 24, a.top + 14);

    ctx.save();
    ctx.translate(34, (a.top + a.bottom) / 2);
    ctx.rotate(-Math.PI / 2);
    ctx.textAlign = 'center';
    ctx.font = '19px ' + FONT;
    ctx.fillText('°C', 0, 0);
    ctx.restore();

    ctx.font = '12px ' + FONT;
    o.items.forEach((it, i) => {
      const ly = a.top + 24 + 16 * i;
      ctx.strokeStyle = it.color;
      ctx.lineWidth = it.width;
      seg(105, ly, 144, ly);
      ctx.fillStyle = it.color;
      ctx.fillText(it.text, 162, ly + 1);
    });
    ctx.restore();
  }
};

function makePanel(id, letter, name, model, modelHi, modelLo, resid, residHi, residLo) {
  const canvas = document.getElementById(id);
  const H = canvas.height;
  const band = (data, color, fill, order) => ({
    data: pts(data), borderWidth: 0, pointRadius: 0, backgroundColor: color,
    fill: fill, order: order, tension: 0
  });
  const line = (data, color, width, order) => ({
    data: pts(data), borderColor: color, borderWidth: width, pointRadius: 0,
    fill: false, order: order, tension: 0
  });
  return new Chart(canvas.getContext('2d'), {
    type: 'line',
    data: {
      datasets: [
        band(residLo, C_SKY, false, 6),
        band(residHi, C_SKY, '-1', 5),
        band(modelLo, C_PINK, false, 4),
        band(modelHi, C_PINK, '-1', 3),
        line(model, C_MODEL, 2, 2),
        line(resid, C_RESID, 2, 1),
        line(observations, C_OBS, 1.3, 0)
      ]
    },
    options: {
      responsive: false,
      animation: false,
      devicePixelRatio: 1,
      layout: { padding: { top: 31, right: 13, left: 0, bottom: 0 } },
      scales: {
        x: {
          type: 'linear', min: 1890, max: 2000,
          grid: { display: false, drawTicks: false },
          border: { display: false },
          afterBuildTicks: (s) => { s.ticks = xMajor.map(v => ({ value: v })); },
          afterFit: (s) => { s.height = H - 287; },
          ticks: { padding: 9, color: '#222', font: { family: FONT, size: 14 },
                   maxRotation: 0, callback: (v) => String(v) }
        },
        y: {
          min: -0.6, max: 1.0,
          grid: { drawTicks: false, lineWidth: 1.2,
                  color: (c) => (c.tick && c.tick.value === 0) ? '#5a5a5a' : 'rgba(0,0,0,0)' },
          border: { display: false },
          afterBuildTicks: (s) => { s.ticks = yMajor.map(v => ({ value: v })); },
          afterFit: (s) => { s.width = 87; },
          ticks: { padding: 10, color: '#222', font: { family: FONT, size: 14 },
                   callback: (v) => v.toFixed(1) }
        }
      },
      plugins: {
        legend: { display: false },
        tooltip: { enabled: false },
        deco: {
          letter: letter,
          items: [
            { text: 'observations', color: C_OBS, width: 1.5 },
            { text: name, color: C_MODEL, width: 2 },
            { text: name + ' residual', color: C_RESID, width: 2 }
          ]
        }
      }
    },
    plugins: [deco]
  });
}

makePanel('pa', '(a)', 'volcano', volcano, volcanoHi, volcanoLo, volcanoResid, volcanoResidHi, volcanoResidLo);
makePanel('pb', '(b)', 'solar', solar, solarHi, solarLo, solarResid, solarResidHi, solarResidLo);
makePanel('pc', '(c)', 'sulfate', sulfate, sulfateHi, sulfateLo, sulfateResid, sulfateResidHi, sulfateResidLo);
makePanel('pd', '(d)', 'ozone', ozone, ozoneHi, ozoneLo, ozoneResid, ozoneResidHi, ozoneResidLo);
</script>
</body>
</html>
